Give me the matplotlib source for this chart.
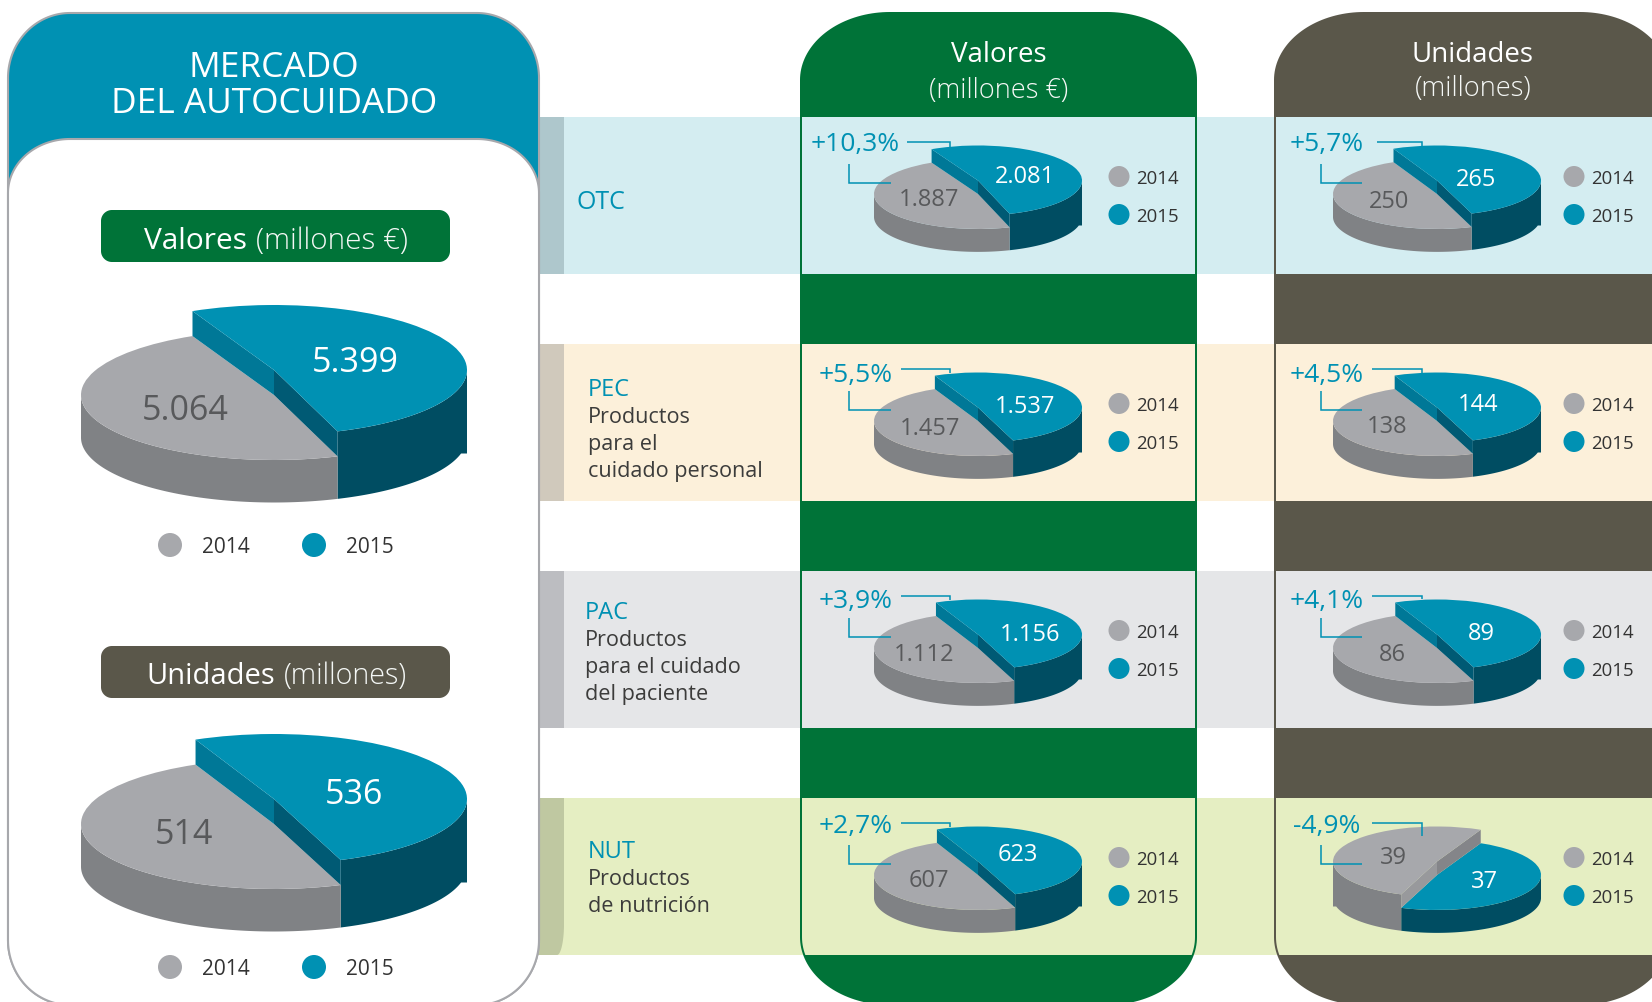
import matplotlib
matplotlib.use('Agg')
import matplotlib.pyplot as plt
import numpy as np
from matplotlib.patches import Polygon, Rectangle, Circle

# data
years = ['2014', '2015']
total_valores = [5064, 5399]
total_unidades = [514, 536]
segments = ['OTC', 'PEC', 'PAC', 'NUT']
segment_text = [[], ['Productos', 'para el', 'cuidado personal'],
                ['Productos', 'para el cuidado', 'del paciente'],
                ['Productos', 'de nutrición']]
valores_2014 = [1887, 1457, 1112, 607]
valores_2015 = [2081, 1537, 1156, 623]
unidades_2014 = [250, 138, 86, 39]
unidades_2015 = [265, 144, 89, 37]
valores_pct = ['+10,3%', '+5,5%', '+3,9%', '+2,7%']
unidades_pct = ['+5,7%', '+4,5%', '+4,1%', '-4,9%']

# colours
BLUE = '#0091b3'
GREY = '#a7a8ac'
GREEN = '#007338'
BROWN = '#5a574a'
DARK = '#333333'
LABEL_GREY = '#58595b'
SOFT_WHITE = '#f5f8f6'
row_colors = ['#d4edf1', '#fcf0da', '#e5e6e8', '#e5eec2']
strip_colors = ['#aec7cc', '#d0c9bc', '#bcbdc1', '#bfc8a1']

# layout, in pixels of the 1652x1003 picture
W, H = 1652, 1003
row_top = [117, 344, 571, 798]
row_h = 157
green_x = (800, 1197)
brown_x = (1274, 1670)
green_cx, brown_cx = 978, 1437
FONT = 'Open Sans'

fig = plt.figure(figsize=(W / 100, H / 100), dpi=100, facecolor='white')
ax = fig.add_axes([0, 0, 1, 1])
ax.set_xlim(0, W)
ax.set_ylim(H - 1, -1)
ax.axis('off')


def round_rect(x0, y0, x1, y1, rx, ry, ry_bot=None):
    # rounded box with elliptical corners
    ry_bot = ry if ry_bot is None else ry_bot
    t = np.linspace(0, np.pi / 2, 40)
    pts = [np.c_[x0 + rx - rx * np.cos(t), y0 + ry - ry * np.sin(t)],
           np.c_[x1 - rx + rx * np.sin(t), y0 + ry - ry * np.cos(t)],
           np.c_[x1 - rx + rx * np.cos(t), y1 - ry_bot + ry_bot * np.sin(t)],
           np.c_[x0 + rx - rx * np.sin(t), y1 - ry_bot + ry_bot * np.cos(t)]]
    return np.vstack(pts)


# coloured rows behind everything
for i in range(4):
    ax.add_patch(Rectangle((520, row_top[i]), W - 520, row_h, fc=row_colors[i], lw=0, zorder=1))
    if i < 3:
        ax.add_patch(Rectangle((520, row_top[i]), 44, row_h, fc=strip_colors[i], lw=0, zorder=2))
t = np.linspace(0, np.pi / 2, 20)
ax.add_patch(Polygon(np.vstack([[[520, row_top[3]], [564, row_top[3]]],
                                np.c_[557 + 7 * np.cos(t), row_top[3] + row_h - 31 + 31 * np.sin(t)],
                                [[520, row_top[3] + row_h]]]),
                     fc=strip_colors[3], lw=0, zorder=2))

# left panel
ax.add_patch(Polygon(round_rect(8, 13, 539, 1005, 62, 65), fc=BLUE, ec=GREY, lw=1.5, zorder=3))
ax.add_patch(Polygon(round_rect(8, 139, 539, 1005, 62, 54, 65), fc='white', ec=GREY, lw=1.5, zorder=4))
for y0, y1, col in [(210, 262, GREEN), (646, 698, BROWN)]:
    ax.add_patch(Polygon(round_rect(101, y0, 450, y1, 11, 11), fc=col, lw=0, zorder=5))

# the two tall columns, rows cut out of them
for (x0, x1), col in [(green_x, GREEN), (brown_x, BROWN)]:
    ax.add_patch(Polygon(round_rect(x0, 12, x1, 1005, 90, 68), fc=col, lw=0, zorder=3))
    inner = Polygon(round_rect(x0 + 2, 12, x1 - 2, 1003, 88, 66), transform=ax.transData)
    for i in range(4):
        r = Rectangle((x0 + 2, row_top[i]), x1 - x0 - 4, row_h, fc=row_colors[i], lw=0, zorder=4)
        ax.add_patch(r)
        r.set_clip_path(inner)


def draw_pie(cx, cy, rx, ry, v14, v15, start, blue_up=True):
    # cy is the centre of the raised slice
    s = rx / 193.0
    dy = 25.0 * s / ry
    thick = 42.5 * s / ry
    clip = 16.0 * s / ry
    lo, hi = -3.5, 1.5
    # the artwork keeps its cut near the same place, so share the difference over both cut lines
    span = 360.0 * v15 / (v14 + v15)
    start = start + (span - (185.8 if blue_up else 175.0)) / 2
    pa = fig.add_axes([(cx - 1.2 * rx) / W, 1 - (cy + 1 - lo * ry) / H, 2.4 * rx / W, (hi - lo) * ry / H])
    wedges, _ = pa.pie([v15, v14], startangle=start, counterclock=False, colors=[BLUE, GREY],
                       radius=1, center=(0, 0), wedgeprops=dict(linewidth=0))
    pa.set_aspect('auto')
    pa.set_xlim(-1.2, 1.2)
    pa.set_ylim(lo, hi)
    pa.axis('off')
    pa.patch.set_alpha(0)

    blue_w, grey_w = wedges
    raised, lower = (blue_w, grey_w) if blue_up else (grey_w, blue_w)
    lower.set_center((0, -dy))
    lower.set_zorder(3)
    raised.set_zorder(5)

    # outer walls: only the front half of each slice shows
    base = -dy - thick
    for w, col, ytop, cl in [(blue_w, '#004d62', 0 if blue_up else -dy, clip if blue_up else 0),
                             (grey_w, '#808285', -dy if blue_up else 0, 0 if blue_up else clip)]:
        a, b = max(w.theta1, -180), min(w.theta2, 0)
        th = np.radians(np.linspace(a, b, 100))
        top = np.c_[np.cos(th), ytop + np.sin(th)]
        bot = np.c_[np.cos(th), np.minimum(base + np.sin(th), base - cl)]
        pa.add_patch(Polygon(np.vstack([top, bot[::-1]]), fc=col, lw=0, zorder=2))

    # cut faces between the raised slice and the lower one
    back_col, front_col = ('#007897', '#005a74') if blue_up else ('#848589', '#98999c')
    back_a, front_a = blue_w.theta2, blue_w.theta1
    for ang, col in [(back_a, back_col), (front_a, front_col)]:
        c, sn = np.cos(np.radians(ang)), np.sin(np.radians(ang))
        pa.add_patch(Polygon([(0, 0), (c, sn), (c, sn - dy), (0, -dy)], fc=col, lw=0, zorder=4))


# pies: big ones first, then one per row and column
draw_pie(274, 370, 193, 65, total_valores[0], total_valores[1], 115)
draw_pie(274, 799, 193, 65, total_unidades[0], total_unidades[1], 115)
for i in range(4):
    cy = row_top[i] + 63.5
    draw_pie(green_cx, cy, 104, 35, valores_2014[i], valores_2015[i], 115)
    if unidades_2015[i] >= unidades_2014[i]:
        draw_pie(brown_cx, cy, 104, 35, unidades_2014[i], unidades_2015[i], 115)
    else:
        draw_pie(brown_cx, cy, 104, 35, unidades_2014[i], unidades_2015[i], 65, blue_up=False)

# everything on top of the pies
top = fig.add_axes([0, 0, 1, 1])
top.axis('off')
top.patch.set_alpha(0)


def txt(x, y, s, size, color=DARK, ha='center', **kw):
    top.text(x, y, s, fontsize=size, color=color, ha=ha, va='baseline', family=FONT, **kw)


def mid(x, y, s, size, color=DARK, ha='center'):
    # y is the middle of the digits
    txt(x, y + 0.357 * size / 0.72, s, size, color, ha)


def num(v):
    return f'{v:,}'.replace(',', '.')


txt(274, 76, 'MERCADO', 25.4, 'white')
txt(274, 112, 'DEL AUTOCUIDADO', 25.4, 'white')

txt(195, 248, 'Valores', 21.5, 'white')
txt(332, 248, '(millones €)', 21.3, SOFT_WHITE, fontweight='light')
txt(211, 683, 'Unidades', 21, 'white')
txt(345, 683, '(millones)', 20.7, SOFT_WHITE, fontweight='light')

mid(355, 359, num(total_valores[1]), 24.5, 'white')
mid(185, 407, num(total_valores[0]), 24.5, LABEL_GREY)
mid(354, 791, num(total_unidades[1]), 24.5, 'white')
mid(184, 831, num(total_unidades[0]), 24.5, LABEL_GREY)

# legends
for ly in (545, 967):
    for lx, tx, col, yr in zip((170, 314), (226, 370), (GREY, BLUE), years):
        top.add_patch(Circle((lx, ly), 12, fc=col, lw=0))
        mid(tx, ly, yr, 15)
for i in range(4):
    for dot_x, text_x in [(1119, 1136), (1574, 1591)]:
        for rel, col, yr in zip((59.5, 97.5), (GREY, BLUE), years):
            top.add_patch(Circle((dot_x, row_top[i] + rel), 10.5, fc=col, lw=0))
            mid(text_x, row_top[i] + rel, yr, 13.4, ha='left')

# column headers
txt(999, 61, 'Valores', 20, 'white')
txt(999, 96.5, '(millones €)', 19.5, SOFT_WHITE, fontweight='light')
txt(1473, 61, 'Unidades', 20, 'white')
txt(1473, 94.5, '(millones)', 19.5, SOFT_WHITE, fontweight='light')

# row labels
label_x = [577, 588, 585, 588]
label_base = [208, 395, 618, 857]
label_size = [18, 17, 17, 17]
for i, name in enumerate(segments):
    txt(label_x[i], label_base[i], name, label_size[i], BLUE, ha='left')
    for j, line in enumerate(segment_text[i]):
        txt(label_x[i], label_base[i] + 27 * (j + 1), line, 15.6, '#3c3c3b', ha='left')

# pie values inside the rows, offsets are from the row top
val_15_pos = [(1025, 57), (1025, 60), (1030, 61), (1018, 54)]
val_14_pos = [(929, 80), (930, 82), (924, 81), (929, 80)]
uni_15_pos = [(1476, 60), (1478, 58), (1481, 60), (1485, 81)]
uni_14_pos = [(1389, 82), (1387, 80), (1392, 81), (1393, 57)]
for i in range(4):
    rt = row_top[i]
    mid(val_15_pos[i][0], rt + val_15_pos[i][1], num(valores_2015[i]), 17, 'white')
    mid(val_14_pos[i][0], rt + val_14_pos[i][1], num(valores_2014[i]), 17, LABEL_GREY)
    mid(uni_15_pos[i][0], rt + uni_15_pos[i][1], num(unidades_2015[i]), 17, 'white')
    mid(uni_14_pos[i][0], rt + uni_14_pos[i][1], num(unidades_2014[i]), 17, LABEL_GREY)

# percent labels and their connectors
pct_x_green = [855, 856, 856, 856]
pct_x_brown = [1327, 1327, 1327, 1327]
pct_base = [33, 37, 36, 34]
top_start_green = [907, 901, 901, 901]
top_start_brown = [1377, 1372, 1372, 1372]
drop_green = [31, 29, 29, 29]
drop_brown = [29, 29, 28, 38]
for i in range(4):
    rt = row_top[i]
    txt(pct_x_green[i], rt + pct_base[i], valores_pct[i], 19, BLUE)
    txt(pct_x_brown[i], rt + pct_base[i], unidades_pct[i], 19, BLUE)
    lc = dict(color=BLUE, lw=1.1, solid_joinstyle='miter', solid_capstyle='butt')
    top.plot([top_start_green[i], 950, 950], [rt + 25, rt + 25, rt + drop_green[i]], **lc)
    top.plot([849, 849, 891], [rt + 47, rt + 66, rt + 66], **lc)
    top.plot([top_start_brown[i], 1422, 1422], [rt + 25, rt + 25, rt + drop_brown[i]], **lc)
    top.plot([1321, 1321, 1362], [rt + 47, rt + 66, rt + 66], **lc)
top.set_xlim(0, W)
top.set_ylim(H - 1, -1)

fig.savefig('out.png', dpi=100)
